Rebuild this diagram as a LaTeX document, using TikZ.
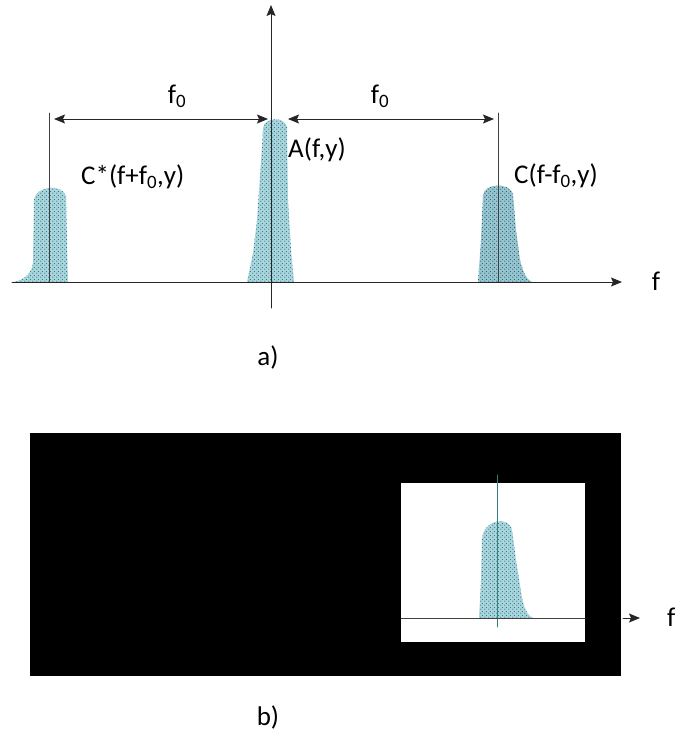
\documentclass[tikz,border=0pt]{standalone}
\usepackage{fontspec}
\setmainfont{Carlito}
\usetikzlibrary{arrows.meta,patterns}
\definecolor{nenpho}{RGB}{170,214,222}
\definecolor{champho}{RGB}{45,110,128}
% Mẫu chấm to hơn crosshatch dots
\pgfdeclarepatternformonly{chamto}{\pgfpointorigin}{\pgfqpoint{4pt}{4pt}}{\pgfqpoint{4pt}{4pt}}{%
	\pgfpathcircle{\pgfqpoint{1pt}{1pt}}{0.75pt}%
	\pgfpathcircle{\pgfqpoint{3pt}{3pt}}{0.75pt}%
	\pgfusepath{fill}}
\tikzset{
  pho/.style={fill=nenpho, postaction={pattern=chamto, pattern color=champho}},
  truc/.style={line width=1pt, black!85},
  giong/.style={line width=0.8pt, black!75},
  nhan/.style={inner sep=1pt, font=\fontsize{27}{31}\selectfont},
}
\begin{document}
\begin{tikzpicture}[x=1pt, y=-1pt, >={Stealth[length=11pt,width=9pt,inset=2pt]}, line join=round, line cap=round]
	\useasboundingbox (0,0) rectangle (675,734);
	% Hình a): các phổ
	\path[pho] (13,282) .. controls (24,280) and (32,274) .. (33,262) -- (34,200)
		.. controls (35,186) and (62,183) .. (66,196) -- (67,240) -- (68,282) -- cycle;
	\path[pho] (247,282) -- (253,253) -- (257,220) -- (262,147) -- (263,128)
		.. controls (264,117) and (285,116) .. (287,127) -- (288,200) -- (291,250) -- (294,282) -- cycle;
	\path[fill=nenpho!85!champho, postaction={pattern=chamto, pattern color=champho!80!black}] (478,282) -- (481,240) -- (483,195)
		.. controls (484,183) and (510,182) .. (513,194) -- (516,230) -- (520,260)
		.. controls (524,276) and (528,280) .. (532,282) -- cycle;
	% Hệ trục
	\coordinate (O) at (271,282);
	\coordinate (Oduoi) at (271,308);
	\coordinate (Otren) at (271,5);
	\coordinate (Otrai) at (12,282);
	\coordinate (Ophai) at (622,282);
	\draw[truc, ->] (Oduoi) -- (Otren);
	\draw[truc, ->] (Otrai) -- (Ophai);
	\node[nhan] (fa) at (656,281) {f};
	% Đường gióng và khoảng f0
	\coordinate (Ltren) at (49,113);
	\coordinate (Lduoi) at (49,282);
	\coordinate (Rtren) at (498,113);
	\coordinate (Rduoi) at (498,282);
	\draw[giong] (Ltren) -- (Lduoi);
	\draw[giong] (Rtren) -- (Rduoi);
	\coordinate (m1) at (54,119);
	\coordinate (m2) at (268,119);
	\coordinate (m3) at (288,119);
	\coordinate (m4) at (494,119);
	\draw[truc, <->] (m1) -- (m2);
	\draw[truc, <->] (m3) -- (m4);
	\node[nhan] (f0trai) at (177,96) {f\textsubscript{0}};
	\node[nhan] (f0phai) at (380,96) {f\textsubscript{0}};
	\node[nhan, anchor=west] (Csao) at (80,177) {C*(f+f\textsubscript{0},y)};
	\node[nhan, anchor=west] (Afy) at (287,150) {A(f,y)};
	\node[nhan, anchor=west] (Cfy) at (513,176) {C(f-f\textsubscript{0},y)};
	\node[nhan] (nhana) at (268,357) {a)};
	% Hình b): vùng đen và ô lọc
	\fill[black] (30,433) rectangle (621,676);
	\fill[white] (401,483) rectangle (585,642);
	\path[pho] (479,618) -- (481,580) -- (482,540)
		.. controls (483,518) and (510,516) .. (512,530) -- (516,560) -- (522,598)
		.. controls (525,612) and (529,616) .. (533,618) -- cycle;
	\coordinate (Bduoi) at (497,627);
	\coordinate (Btren) at (497,475);
	\coordinate (Btrai) at (401,618);
	\coordinate (Bphai) at (585,618);
	\coordinate (Bra) at (623,618);
	\coordinate (Bmui) at (640,618);
	\draw[line width=0.8pt, teal!60!gray] (Bduoi) -- (Btren);
	\draw[line width=1pt, black!75] (Btrai) -- (Bphai);
	\draw[truc, ->] (Bra) -- (Bmui);
	\node[nhan, anchor=west] (fb) at (666,617) {f};
	\node[nhan] (nhanb) at (268,717) {b)};
\end{tikzpicture}
\end{document}
